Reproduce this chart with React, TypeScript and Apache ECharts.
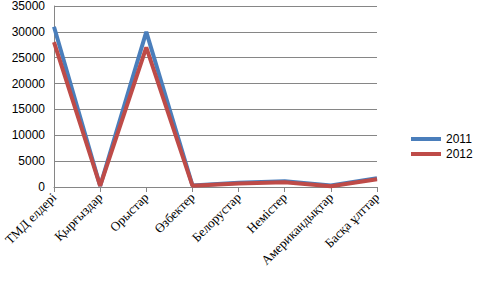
import React, { useEffect, useRef } from "react";
import * as echarts from "echarts";

const categories = ["ТМД елдері", "Қырғыздар", "Орыстар", "Өзбектер", "Белорустар", "Немістер", "Американдықтар", "Басқа ұлттар"];
const values2011 = [31000, 200, 30000, 300, 800, 1100, 300, 1700];
const values2012 = [28000, 200, 27000, 250, 700, 900, 150, 1500];
const yTicks = { min: 0, max: 35000, interval: 5000 };

export default function App() {
  const ref = useRef<HTMLDivElement>(null);
  useEffect(() => {
    const chart = echarts.init(ref.current!, null, { renderer: "svg" });
    chart.setOption({
      animation: false,
      grid: { left: 54, right: 103, top: 6, bottom: 101 },
      legend: {
        orient: "vertical",
        left: 406,
        top: 128,
        itemWidth: 30,
        itemHeight: 4,
        itemGap: 3,
        icon: "rect",
        textStyle: { fontFamily: "Liberation Sans", fontSize: 12, color: "#000" },
        data: ["2011", "2012"],
      },
      xAxis: {
        type: "category",
        data: categories,
        boundaryGap: false,
        axisLine: { lineStyle: { color: "#868686" } },
        axisTick: { show: true, length: 5, lineStyle: { color: "#868686" } },
        axisLabel: {
          rotate: 45,
          interval: 0,
          fontFamily: "Liberation Serif",
          fontSize: 13,
          color: "#000",
          margin: 8,
        },
      },
      yAxis: {
        type: "value",
        min: yTicks.min,
        max: yTicks.max,
        interval: yTicks.interval,
        axisLine: { show: true, lineStyle: { color: "#868686" } },
        axisTick: { show: false },
        splitLine: { lineStyle: { color: "#868686" } },
        axisLabel: {
          fontFamily: "Liberation Sans",
          fontSize: 12,
          color: "#000",
          margin: 9,
          formatter: (v: number) => String(v),
        },
      },
      series: [
        {
          name: "2011",
          type: "line",
          data: values2011,
          symbol: "none",
          lineStyle: { width: 4, color: "#4a7ebb" },
          itemStyle: { color: "#4a7ebb" },
        },
        {
          name: "2012",
          type: "line",
          data: values2012,
          symbol: "none",
          lineStyle: { width: 4, color: "#be4b48" },
          itemStyle: { color: "#be4b48" },
        },
      ],
    });
    return () => chart.dispose();
  }, []);
  return <div ref={ref} style={{ width: 480, height: 288, position: "absolute", left: 0, top: 0 }} />;
}
